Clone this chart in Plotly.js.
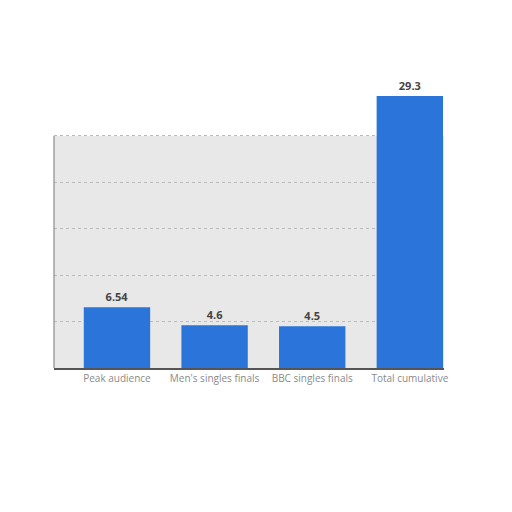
<!DOCTYPE html>
<html>
<head>
<meta charset="utf-8">
<script src="https://cdn.plot.ly/plotly-3.0.1.min.js"></script>
<style>html,body{margin:0;padding:0;background:#fff;}#chart{width:512px;height:512px;}</style>
</head>
<body>
<div id="chart"></div>
<script>
const categories = ["Peak audience", "Men's singles finals", "BBC singles finals", "Total cumulative"];
const values = [6.54, 4.6, 4.5, 29.3];
const valueLabels = ["6.54", "4.6", "4.5", "29.3"];
const yTicks = [0, 5, 10, 15, 20, 25];
const frameTop = 25;

const trace = {
  type: 'bar',
  x: [0, 1, 2, 3],
  y: values,
  width: 0.68,
  marker: {color: '#2b74d9'},
  text: valueLabels,
  textposition: 'outside',
  cliponaxis: false,
  textfont: {family: 'Open Sans, DejaVu Sans, sans-serif', size: 11, color: '#444'},
  texttemplate: '<b>%{text}</b>',
  hoverinfo: 'none'
};

const layout = {
  width: 512, height: 512,
  margin: {l: 54, r: 68, t: 80, b: 144},
  paper_bgcolor: '#ffffff',
  plot_bgcolor: '#ffffff',
  showlegend: false,
  xaxis: {
    range: [-0.645, 3.35],
    tickmode: 'array',
    tickvals: [0, 1, 2, 3],
    ticktext: categories,
    tickfont: {family: 'Open Sans, DejaVu Sans, sans-serif', size: 10, color: '#8a8a8a'},
    showgrid: false, zeroline: false,
    showline: true, linecolor: '#555', linewidth: 1.5,
    ticks: ''
  },
  yaxis: {
    range: [0, 31.03],
    tickmode: 'array',
    tickvals: yTicks,
    showticklabels: false,
    showgrid: true, gridcolor: '#bbbbbb', griddash: 'dot', gridwidth: 1,
    zeroline: false,
    showline: false,
    ticks: ''
  },
  shapes: [
    {type: 'rect', xref: 'paper', yref: 'y', x0: 0, x1: 1, y0: 0, y1: frameTop,
     fillcolor: '#e8e8e8', line: {width: 0}, layer: 'below'},
    {type: 'line', xref: 'paper', yref: 'y', x0: 0, x1: 0, y0: 0, y1: frameTop,
     line: {color: '#777', width: 1}, layer: 'above'}
  ]
};

Plotly.newPlot('chart', [trace], layout, {displayModeBar: false, staticPlot: true});
</script>
</body>
</html>
